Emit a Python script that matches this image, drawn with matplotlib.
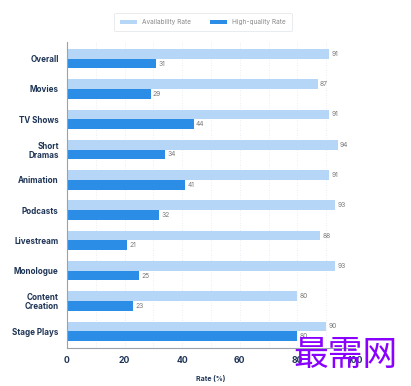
import matplotlib
matplotlib.use("Agg")
import matplotlib.pyplot as plt
import numpy as np

categories = ["Overall", "Movies", "TV Shows", "Short\nDramas", "Animation",
              "Podcasts", "Livestream", "Monologue", "Content\nCreation", "Stage Plays"]
availability = [91, 87, 91, 94, 91, 93, 88, 93, 80, 90]
high_quality = [31, 29, 44, 34, 41, 32, 21, 25, 23, 80]

light = "#b5d6f6"
dark = "#2b8de6"
navy = "#1f3556"

plt.rcParams['font.family'] = ['Inter', 'DejaVu Sans']

fig = plt.figure(figsize=(4.11, 3.86), dpi=100)
ax = fig.add_axes([67 / 411, 38 / 386, 288 / 411, 306 / 386])

y = np.arange(len(categories))
h = 0.32
ax.barh(y - h / 2, availability, height=h, color=light, label="Availability Rate", zorder=2)
ax.barh(y + h / 2, high_quality, height=h, color=dark, label="High-quality Rate", zorder=2)

for i in range(len(categories)):
    ax.text(availability[i] + 0.8, y[i] - h / 2, str(availability[i]), va="center",
            ha="left", fontsize=4.8, color="#777777")
    ax.text(high_quality[i] + 0.8, y[i] + h / 2, str(high_quality[i]), va="center",
            ha="left", fontsize=4.8, color="#777777")

ax.set_yticks(y)
ax.set_yticklabels(categories, fontsize=5.8, fontweight="bold", color=navy, linespacing=1.0)
ax.set_ylim(len(categories) - 0.45, -0.55)
ax.set_xlim(0, 100)
ax.set_xticks([0, 20, 40, 60, 80, 100])
ax.set_xticks(np.arange(0, 101, 10), minor=True)
ax.tick_params(axis="x", which="both", length=0, labelsize=6.3, labelcolor=navy, pad=6)
for lab in ax.get_xticklabels():
    lab.set_fontweight("bold")
ax.tick_params(axis="y", length=0, pad=6)
ax.grid(axis="x", which="both", linestyle=(0, (1, 2)), color="#e3e8ef", linewidth=0.6, zorder=0)
ax.set_xlabel("Rate (%)", fontsize=5, fontweight="bold", color=navy, labelpad=7)

for s in ["top", "right"]:
    ax.spines[s].set_visible(False)
for s in ["left", "bottom"]:
    ax.spines[s].set_color("#9aa3ad")
    ax.spines[s].set_linewidth(0.8)

leg = fig.legend(loc="center", bbox_to_anchor=(203 / 411, 1 - 22 / 386), ncol=2,
                 fontsize=4.7, frameon=True, handlelength=2.5, handleheight=0.5,
                 columnspacing=3, borderpad=0.9)
leg.get_frame().set_edgecolor("#dfe3e8")
leg.get_frame().set_linewidth(0.6)
for t in leg.get_texts():
    t.set_color("#888888")

fig.text(345 / 411, 1 - 355 / 386, "最需网", fontsize=25, color="#8a00ff",
         family=["Noto Sans CJK SC", "DejaVu Sans"], ha="center", va="center")

fig.savefig("out.png", dpi=100)
